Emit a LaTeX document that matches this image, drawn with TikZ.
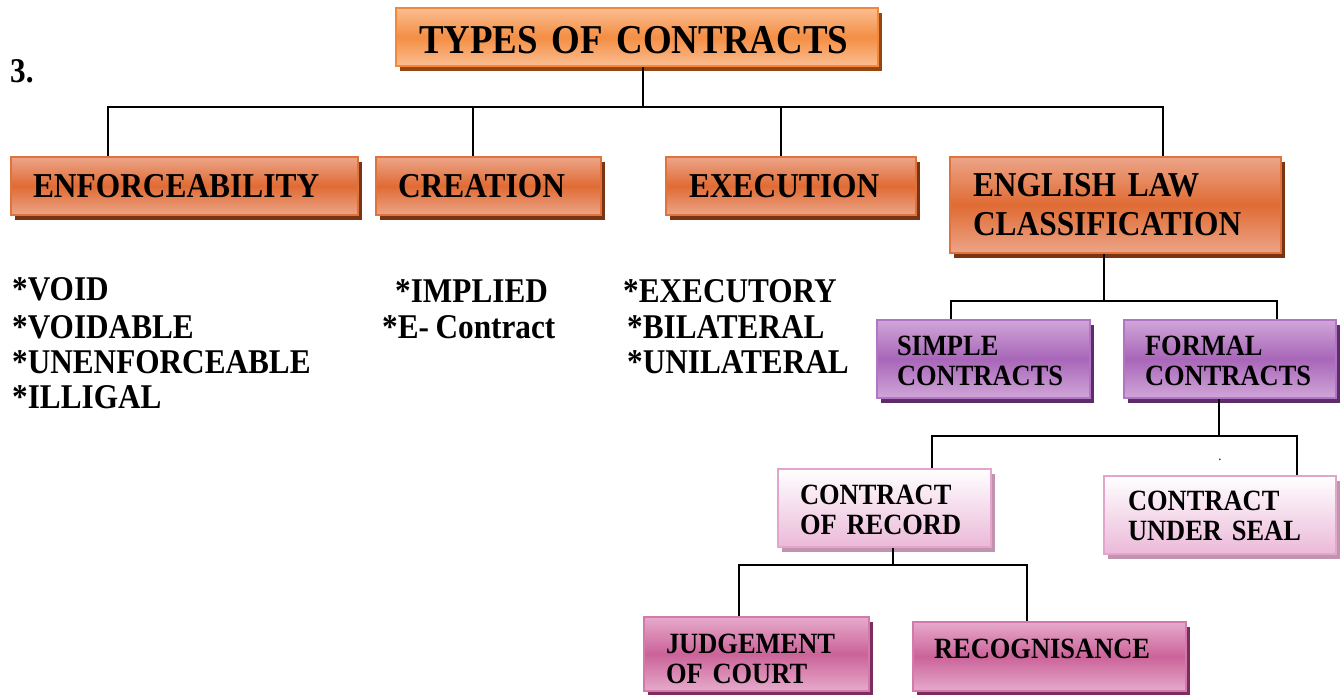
\documentclass[tikz,border=0pt]{standalone}
\usepackage{fontspec}
\setmainfont{Liberation Serif}[FakeStretch=0.9,WordSpace=0.85]
\usetikzlibrary{shadows}
\definecolor{tEdge}{HTML}{FBBE92}
\definecolor{tMid}{HTML}{F48E44}
\definecolor{tLine}{HTML}{F4883A}
\definecolor{tShad}{HTML}{974611}
\definecolor{oEdge}{HTML}{ECA588}
\definecolor{oMid}{HTML}{E06B34}
\definecolor{oLine}{HTML}{E0733C}
\definecolor{oShad}{HTML}{7B3413}
\definecolor{pEdge}{HTML}{D0A6D8}
\definecolor{pMid}{HTML}{A866B8}
\definecolor{pLine}{HTML}{B274C4}
\definecolor{pShad}{HTML}{5E2C68}
\definecolor{lTop}{HTML}{FFFFFF}
\definecolor{lBot}{HTML}{EBB9D9}
\definecolor{lLine}{HTML}{E3A5CC}
\definecolor{lShad}{HTML}{C293AE}
\definecolor{mEdge}{HTML}{E6AACB}
\definecolor{mMid}{HTML}{CB6399}
\definecolor{mLine}{HTML}{D47AAA}
\definecolor{mShad}{HTML}{7C2C5E}
\newcommand\tstr[1]{\rule{0pt}{#1}}
\begin{document}
\begin{tikzpicture}[x=1pt,y=-1pt,
  bx/.style={rectangle, anchor=north west, line width=2pt, align=left, inner xsep=0pt, inner ysep=0pt},
  titlebox/.style={bx, draw=tLine, top color=tEdge, bottom color=tEdge, middle color=tMid,
     drop shadow={shadow xshift=4pt, shadow yshift=-5pt, fill=tShad, opacity=1},
     font=\fontsize{41}{48}\selectfont\bfseries},
  obox/.style={bx, draw=oLine, top color=oEdge, bottom color=oEdge, middle color=oMid,
     drop shadow={shadow xshift=4pt, shadow yshift=-5pt, fill=oShad, opacity=1},
     font=\fontsize{34.9}{39}\selectfont\bfseries},
  pbox/.style={bx, draw=pLine, top color=pEdge, bottom color=pEdge, middle color=pMid,
     drop shadow={shadow xshift=4pt, shadow yshift=-5pt, fill=pShad, opacity=1},
     font=\fontsize{29.4}{30}\selectfont\bfseries},
  lbox/.style={bx, draw=lLine, top color=lTop, bottom color=lBot,
     drop shadow={shadow xshift=4pt, shadow yshift=-5pt, fill=lShad, opacity=1},
     font=\fontsize{29.4}{30}\selectfont\bfseries},
  mbox/.style={bx, draw=mLine, top color=mEdge, bottom color=mEdge, middle color=mMid,
     drop shadow={shadow xshift=4pt, shadow yshift=-5pt, fill=mShad, opacity=1},
     font=\fontsize{29.4}{30}\selectfont\bfseries},
  lst/.style={anchor=base west, inner sep=0pt, font=\fontsize{34.7}{36}\selectfont\bfseries},
  conn/.style={draw=black, line width=1.6pt}
]
\useasboundingbox (0,0) rectangle (1344,694);

% boxes
\node[titlebox, minimum width=482pt, minimum height=58pt, text width=436pt] (title) at (395,7) {\tstr{34pt}TYPES OF CONTRACTS};
\node[obox, minimum width=347pt, minimum height=58pt, text width=303pt] (enf) at (10,156) {ENFORCEABILITY};
\node[obox, minimum width=225pt, minimum height=58pt, text width=181pt] (cre) at (375,156) {CREATION};
\node[obox, minimum width=250pt, minimum height=58pt, text width=204pt] (exe) at (665,156) {EXECUTION};
\node[obox, minimum width=331pt, minimum height=96pt, text width=285pt] (engl) at (949,156) {ENGLISH LAW\\CLASSIFICATION};
\node[pbox, minimum width=213pt, minimum height=78pt, text width=173pt] (simple) at (876,319) {\tstr{24pt}SIMPLE\\CONTRACTS};
\node[pbox, minimum width=212pt, minimum height=78pt, text width=170pt] (formal) at (1123,319) {\tstr{24pt}FORMAL\\CONTRACTS};
\node[lbox, minimum width=213pt, minimum height=78pt, text width=169pt] (cor) at (777,468) {\tstr{24pt}CONTRACT\\OF RECORD};
\node[lbox, minimum width=232pt, minimum height=78pt, text width=184pt] (cus) at (1103,475) {\tstr{22pt}CONTRACT\\UNDER SEAL};
\node[mbox, minimum width=225pt, minimum height=74pt, text width=181pt] (judg) at (643,616) {\tstr{30pt}JUDGEMENT\\OF COURT};
\node[mbox, minimum width=273pt, minimum height=69pt, text width=231pt, text depth=16pt] (recog) at (912,621) {RECOGNISANCE};

% loose texts
\node[lst] (num) at (10,82) {3.};
\node[lst] (v1) at (12,300) {*VOID};
\node[lst] (v2) at (12,338) {*VOIDABLE};
\node[lst] (v3) at (12,373) {*UNENFORCEABLE};
\node[lst] (v4) at (12,408) {*ILLIGAL};
\node[lst] (c1) at (395,302) {*IMPLIED};
\node[lst] (c2) at (382,338) {*E- Contract};
\node[lst] (e1) at (623,302) {*EXECUTORY};
\node[lst] (e2) at (627,338) {*BILATERAL};
\node[lst] (e3) at (627,373) {*UNILATERAL};
\node[anchor=base, inner sep=0pt, font=\fontsize{14}{14}\selectfont] (dot) at (1220,460) {.};

% junction coordinates
\coordinate (j0) at (643,107);
\coordinate (a1) at (108,107);
\coordinate (a2) at (473,107);
\coordinate (a3) at (781,107);
\coordinate (a4) at (1163,107);
\coordinate (k0) at (1104,301);
\coordinate (b1) at (951,301);
\coordinate (b2) at (1277,301);
\coordinate (m0) at (1219,436);
\coordinate (d1) at (932,436);
\coordinate (d2) at (1297,436);
\coordinate (n0) at (893,565);
\coordinate (f1) at (739,565);
\coordinate (f2) at (1027,565);

% connectors
\draw[conn] (title.south -| j0) -- (j0);
\draw[conn] (enf.north -| a1) -- (a1) -- (a4) -- (engl.north -| a4);
\draw[conn] (a2) -- (cre.north -| a2);
\draw[conn] (a3) -- (exe.north -| a3);

\draw[conn] (engl.south -| k0) -- (k0);
\draw[conn] (simple.north -| b1) -- (b1) -- (b2) -- (formal.north -| b2);

\draw[conn] (formal.south -| m0) -- (m0);
\draw[conn] (cor.north -| d1) -- (d1) -- (d2) -- (cus.north -| d2);

\draw[conn] (cor.south -| n0) -- (n0);
\draw[conn] (judg.north -| f1) -- (f1) -- (f2) -- (recog.north -| f2);
\end{tikzpicture}
\end{document}
